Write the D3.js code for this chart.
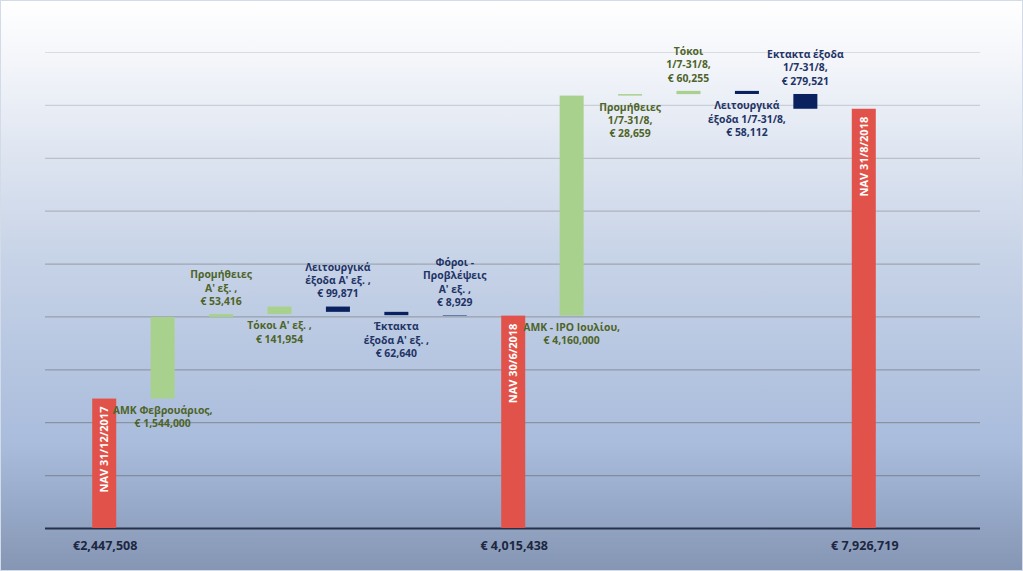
<!DOCTYPE html>
<html>
<head>
<meta charset="utf-8">
<script src="https://cdn.jsdelivr.net/npm/d3@7"></script>
<style>
  html, body { margin: 0; padding: 0; background: #fff; }
  svg { display: block; }
  text { font-family: "Open Sans", "Noto Sans", sans-serif; font-weight: 700; }
</style>
</head>
<body>
<div id="chart"></div>
<script>
var width = 1023
var height = 571

// waterfall steps, in order
var categories = ["NAV 31/12/2017", "ΑΜΚ Φεβρουάριος", "Προμήθειες Α'", "Τόκοι Α'", "Λειτουργικά Α'",
  "Έκτακτα Α'", "Φόροι Α'", "NAV 30/6/2018", "ΑΜΚ - IPO Ιουλίου", "Προμήθειες 1/7-31/8",
  "Τόκοι 1/7-31/8", "Λειτουργικά 1/7-31/8", "Εκτακτα 1/7-31/8", "NAV 31/8/2018"]
var values = [2447508, 1544000, 53416, 141954, -99871, -62640, -8929,
  4015438, 4160000, 28659, 60255, -58112, -279521, 7926719]
var kinds = ["total", "up", "up", "up", "down", "down", "down",
  "total", "up", "up", "up", "down", "down", "total"]

// annotation lines for the change bars, and which side of the bar they sit
var labelLines = [
  [],
  ["ΑΜΚ Φεβρουάριος,", "€ 1,544,000"],
  ["Προμήθειες", "Α' εξ. ,", "€ 53,416"],
  ["Τόκοι Α' εξ. ,", "€ 141,954"],
  ["Λειτουργικά", "έξοδα Α' εξ. ,", "€ 99,871"],
  ["Έκτακτα", "έξοδα Α' εξ. ,", "€ 62,640"],
  ["Φόροι -", "Προβλέψεις", "Α' εξ. ,", "€ 8,929"],
  [],
  ["ΑΜΚ - IPO Ιουλίου,", "€ 4,160,000"],
  ["Προμήθειες", "1/7-31/8,", "€ 28,659"],
  ["Τόκοι", "1/7-31/8,", "€ 60,255"],
  ["Λειτουργικά", "έξοδα  1/7-31/8,", "€ 58,112"],
  ["Εκτακτα έξοδα", "1/7-31/8,", "€ 279,521"],
  []
]
var labelSide = ["", "below", "above", "below", "above", "below", "above",
  "", "below", "below", "above", "below", "above", ""]

// totals: value under the axis
var totalLabels = {"NAV 31/12/2017": "€2,447,508", "NAV 30/6/2018": "€ 4,015,438", "NAV 31/8/2018": "€ 7,926,719"}

var yTicks = d3.range(0, 9000001, 1000000)

// build start / end of every step
var running = 0
var steps = categories.map(function(c, i) {
  var s, e
  if (kinds[i] == "total") { s = 0; e = values[i]; running = values[i] }
  else { s = running; e = running + values[i]; running = e }
  return {cat: c, kind: kinds[i], start: s, end: e, lines: labelLines[i], side: labelSide[i]}
})

var colors = {total: "#E1534A", up: "#A9D18E", down: "#0A215F"}
var textColors = {up: "#4E6428", down: "#1F3466"}

var svg = d3.select("#chart").append("svg").attr("width", width).attr("height", height)

var grad = svg.append("defs").append("linearGradient")
  .attr("id", "bg").attr("x1", 0).attr("y1", 0).attr("x2", 0).attr("y2", 1)
grad.append("stop").attr("offset", "0%").attr("stop-color", "#ffffff")
grad.append("stop").attr("offset", "10%").attr("stop-color", "#f4f6fa")
grad.append("stop").attr("offset", "45%").attr("stop-color", "#c7d3e7")
grad.append("stop").attr("offset", "78%").attr("stop-color", "#a9bcdc")
grad.append("stop").attr("offset", "100%").attr("stop-color", "#8596b4")

svg.append("rect").attr("x", 0.5).attr("y", 0.5).attr("width", width - 1).attr("height", height - 1)
  .attr("fill", "url(#bg)").attr("stroke", "#d3dbe8")

var y = d3.scaleLinear().domain([0, 9000000]).range([528, 52])
var x = d3.scaleBand().domain(categories).range([75, 893]).paddingInner(0.589).paddingOuter(0.2945)

// gridlines get lighter towards the top
var gridColor = d3.scaleLinear().domain([52, 263, 475]).range(["#d9dce2", "#9ea6b4", "#848c9c"])
var grid = svg.append("g")
  .attr("transform", "translate(45,0)")
  .call(d3.axisLeft(y).tickValues(yTicks).tickSize(-935).tickFormat(""))
grid.select(".domain").remove()
grid.selectAll(".tick line")
  .attr("stroke", function(d) { return gridColor(y(d)) })
  .attr("stroke-width", 1.2)
grid.selectAll(".tick").filter(function(d) { return d == 0 }).select("line")
  .attr("stroke", "#27314a").attr("stroke-width", 2)

// bars
svg.selectAll("rect.bar")
  .data(steps)
  .enter()
  .append("rect")
  .attr("class", "bar")
  .attr("x", function(d) { return x(d.cat) })
  .attr("width", x.bandwidth())
  .attr("y", function(d) { return y(Math.max(d.start, d.end)) })
  .attr("height", function(d) { return Math.abs(y(d.start) - y(d.end)) })
  .attr("fill", function(d) { return colors[d.kind] })

// NAV text inside red bars
var totals = steps.filter(function(d) { return d.kind == "total" })
svg.selectAll("text.nav")
  .data(totals)
  .enter()
  .append("text")
  .attr("class", "nav")
  .attr("transform", function(d) {
    return "translate(" + (x(d.cat) + x.bandwidth() / 2) + "," + (y(d.end) + 8) + ") rotate(-90)"
  })
  .attr("text-anchor", "end")
  .attr("dy", "0.36em")
  .attr("font-size", "11px")
  .attr("fill", "#ffffff")
  .text(function(d) { return d.cat })

// values under the axis
svg.selectAll("text.total")
  .data(totals)
  .enter()
  .append("text")
  .attr("class", "total")
  .attr("x", function(d) { return x(d.cat) + x.bandwidth() / 2 + 1 })
  .attr("y", 550)
  .attr("text-anchor", "middle")
  .attr("font-size", "12.5px")
  .attr("fill", "#1d2741")
  .text(function(d) { return totalLabels[d.cat] })

// annotations for the change bars
var lineH = 13.3
var changes = steps.filter(function(d) { return d.kind != "total" })
changes.forEach(function(d) {
  var top = y(Math.max(d.start, d.end))
  var bottom = y(Math.min(d.start, d.end))
  var n = d.lines.length
  var first = d.side == "above" ? top - 13 - (n - 1) * lineH : bottom + 11.5
  var t = svg.append("text")
    .attr("text-anchor", "middle")
    .attr("font-size", "10.4px")
    .attr("fill", textColors[d.kind])
  d.lines.forEach(function(l, j) {
    t.append("tspan")
      .attr("x", x(d.cat) + x.bandwidth() / 2)
      .attr("y", first + j * lineH)
      .attr("dy", "0.36em")
      .text(l)
  })
})
</script>
</body>
</html>
